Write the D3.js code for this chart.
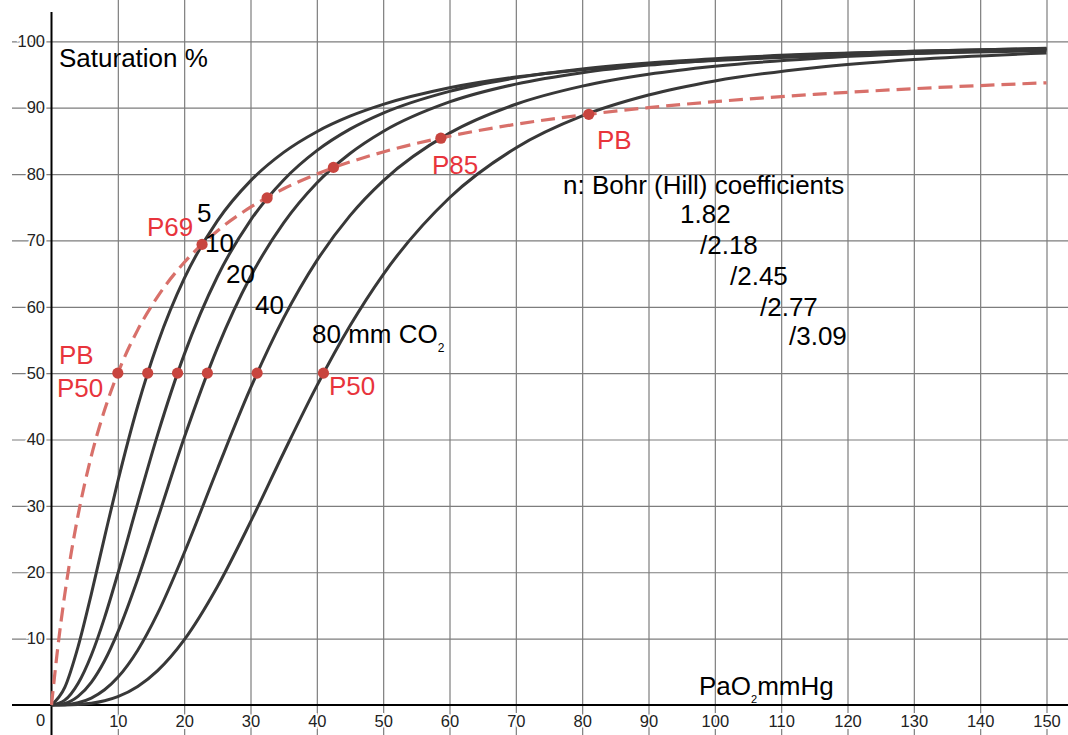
<!DOCTYPE html>
<html>
<head>
<meta charset="utf-8">
<script src="https://cdn.jsdelivr.net/npm/d3@7"></script>
<style>
  body { margin: 0; background: #fff; }
  svg { display: block; font-family: "Liberation Sans", Arial, Helvetica, sans-serif; }
</style>
</head>
<body>
<div id="chart"></div>
<script>
// PaO2 sample points (mmHg) for the black CO2 curves
var pO2 = [0, 2, 4, 6, 8, 10, 13, 16, 20, 25, 30, 35, 40, 45, 50, 60, 70, 80, 90, 100, 115, 130, 150];

// saturation % (5, 10, 20, 40, 80 mm CO2)
var sat5  = [0, 2.65, 8.76, 16.72, 25.30, 33.7, 45.05, 54.47, 64.23, 72.94, 78.97, 83.26, 86.38, 88.71, 90.49, 92.99, 94.61, 95.72, 96.52, 97.11, 97.75, 98.19, 98.60];
var sat10 = [0, 0.73, 3.24, 7.50, 13.17, 19.79, 30.42, 40.74, 52.79, 64.53, 73.03, 79.11, 83.52, 86.76, 89.18, 92.46, 94.49, 95.83, 96.74, 97.39, 98.07, 98.51, 98.91];
var sat20 = [0, 0.24, 1.29, 3.41, 6.66, 10.98, 18.99, 28.05, 40.25, 53.78, 64.53, 72.63, 78.64, 83.09, 86.41, 90.86, 93.55, 95.27, 96.41, 97.20, 98.00, 98.51, 98.95];
var sat40 = [0, 0.05, 0.34, 1.05, 2.29, 4.17, 8.26, 13.80, 22.90, 35.53, 47.73, 58.32, 66.95, 73.74, 78.98, 86.16, 90.52, 93.25, 95.04, 96.25, 97.42, 98.15, 98.75];
var sat80 = [0, 0.01, 0.08, 0.26, 0.64, 1.26, 2.79, 5.18, 9.81, 17.82, 27.58, 38.01, 48.09, 57.14, 64.86, 76.43, 83.93, 88.75, 91.90, 94.02, 96.03, 97.25, 98.22];

// dashed PB curve
var pbX   = [0, 1, 2, 3, 4, 6, 8, 10, 13, 16, 20, 25, 30, 35, 40, 50, 60, 70, 80, 90, 100, 115, 130, 150];
var pbSat = [0, 9.09, 16.67, 23.08, 28.57, 37.5, 44.44, 50, 56.52, 61.54, 66.67, 71.43, 75, 77.78, 80, 83.33, 85.71, 87.5, 88.89, 90, 90.91, 92.0, 92.86, 93.75];

// P50 points and crossings of the dashed curve
var p50X = [10, 14.5, 19, 23.5, 31, 41];
var crossX = [22.7, 32.5, 42.5, 58.7, 81];
var crossY = [69.4, 76.4, 81.0, 85.4, 89.0];

var xTicks = [10, 20, 30, 40, 50, 60, 70, 80, 90, 100, 110, 120, 130, 140, 150];
var yTicks = [10, 20, 30, 40, 50, 60, 70, 80, 90, 100];

var width = 1068, height = 735;

var svg = d3.select("#chart").append("svg")
    .attr("width", width)
    .attr("height", height);

svg.append("rect").attr("width", width).attr("height", height).attr("fill", "#fff");

var x = d3.scaleLinear().domain([0, 150]).range([51.5, 1046.5]);
var y = d3.scaleLinear().domain([0, 100]).range([705, 41.3]);

// grid
var gridX = svg.append("g")
    .attr("transform", "translate(0," + height + ")")
    .call(d3.axisTop(x).tickValues(xTicks).tickSize(height).tickFormat(""));
var gridY = svg.append("g")
    .attr("transform", "translate(12,0)")
    .call(d3.axisRight(y).tickValues(yTicks).tickSize(width - 12).tickFormat(""));
[gridX, gridY].forEach(function(g) {
    g.select(".domain").remove();
    g.selectAll("line").attr("stroke", "#7d7d7d").attr("stroke-width", 1.2);
});

// tick labels
var xLab = svg.append("g")
    .attr("transform", "translate(0,705)")
    .call(d3.axisBottom(x).tickValues(xTicks).tickSize(0).tickPadding(10));
var yLab = svg.append("g")
    .attr("transform", "translate(51.5,0)")
    .call(d3.axisLeft(y).tickValues(yTicks).tickSize(0).tickPadding(6.5));
[xLab, yLab].forEach(function(g) {
    g.select(".domain").remove();
    g.selectAll("text")
        .attr("font-size", 16.5)
        .attr("font-family", "Liberation Sans, Arial, sans-serif")
        .attr("fill", "#222")
        .attr("stroke", "#fff")
        .attr("stroke-width", 4)
        .attr("paint-order", "stroke");
});
svg.append("text").attr("x", 40.5).attr("y", 726).attr("text-anchor", "middle")
    .attr("font-size", 16.5).attr("fill", "#222").text("0");

// axes lines
svg.append("line").attr("x1", x(0)).attr("x2", x(0)).attr("y1", 12).attr("y2", height)
    .attr("stroke", "#000").attr("stroke-width", 2);
svg.append("line").attr("x1", 12).attr("x2", width).attr("y1", y(0)).attr("y2", y(0))
    .attr("stroke", "#000").attr("stroke-width", 2);

// curves
var line = d3.line()
    .x(function(d) { return x(d[0]); })
    .y(function(d) { return y(d[1]); })
    .curve(d3.curveMonotoneX);

[sat5, sat10, sat20, sat40, sat80].forEach(function(s) {
    svg.append("path")
        .datum(pO2.map(function(p, i) { return [p, s[i]]; }))
        .attr("d", line)
        .attr("fill", "none")
        .attr("stroke", "#383838")
        .attr("stroke-width", 3);
});

svg.append("path")
    .datum(pbX.map(function(p, i) { return [p, pbSat[i]]; }))
    .attr("d", line)
    .attr("fill", "none")
    .attr("stroke", "#d8706a")
    .attr("stroke-width", 3.2)
    .attr("stroke-dasharray", "14,7");

// dots
var dotColor = "#c8453f";
svg.selectAll(".p50").data(p50X).enter().append("circle")
    .attr("cx", function(d) { return x(d); })
    .attr("cy", y(50))
    .attr("r", 5.6)
    .attr("fill", dotColor);
svg.selectAll(".cross").data(crossX).enter().append("circle")
    .attr("cx", function(d) { return x(d); })
    .attr("cy", function(d, i) { return y(crossY[i]); })
    .attr("r", 5.6)
    .attr("fill", dotColor);

// labels
var red = "#e8343c";
var labels = [
    { t: "Saturation %", px: 59, py: 67, c: "#000" },
    { t: "5", px: 197, py: 222, c: "#000" },
    { t: "10", px: 205, py: 252, c: "#000" },
    { t: "20", px: 226, py: 283, c: "#000" },
    { t: "40", px: 255, py: 314, c: "#000" },
    { t: "P69", px: 147, py: 236, c: red },
    { t: "PB", px: 59, py: 364, c: red },
    { t: "P50", px: 57, py: 397, c: red },
    { t: "P50", px: 329, py: 395, c: red },
    { t: "P85", px: 432, py: 174, c: red },
    { t: "PB", px: 597, py: 149, c: red },
    { t: "n: Bohr (Hill) coefficients", px: 563, py: 194, c: "#000" },
    { t: "1.82", px: 680, py: 223, c: "#000" },
    { t: "/2.18", px: 700, py: 254, c: "#000" },
    { t: "/2.45", px: 730, py: 285, c: "#000" },
    { t: "/2.77", px: 760, py: 316, c: "#000" },
    { t: "/3.09", px: 789, py: 345, c: "#000" }
];
labels.forEach(function(l) {
    svg.append("text").attr("x", l.px).attr("y", l.py)
        .attr("font-size", 26).attr("fill", l.c).text(l.t);
});

var co2 = svg.append("text").attr("x", 312).attr("y", 343).attr("font-size", 26).attr("fill", "#000");
co2.append("tspan").text("80 mm CO");
co2.append("tspan").attr("font-size", 12).attr("dy", 9).text("2");

var pao2 = svg.append("text").attr("x", 699).attr("y", 695).attr("font-size", 26).attr("fill", "#000");
pao2.append("tspan").text("PaO");
pao2.append("tspan").attr("font-size", 11).attr("dy", 8).text("2");
pao2.append("tspan").attr("dy", -8).text("mmHg");
</script>
</body>
</html>
